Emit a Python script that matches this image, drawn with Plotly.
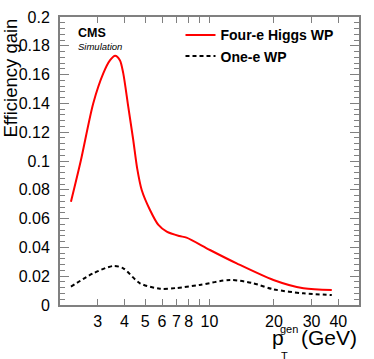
import plotly.graph_objects as go

# Four-e Higgs WP (red, solid)
four_e_pt = [2.25, 2.5, 2.86, 3.19, 3.43, 3.62, 3.81, 3.95, 4.17, 4.40,
             4.59, 4.82, 5.27, 5.77, 6.31, 7.23, 7.81, 10.05, 13.4, 19.9, 27.5, 37.3]
four_e_gain = [0.0717, 0.100, 0.140, 0.161, 0.170, 0.1731, 0.170, 0.161,
               0.1377, 0.1146, 0.0949, 0.0799, 0.066, 0.0556, 0.0509, 0.0479, 0.0468,
               0.0382, 0.0289, 0.0174, 0.0116, 0.0104]

# One-e WP (black, dashed)
one_e_pt = [2.25, 2.86, 3.55, 3.95, 4.73, 5.87, 7.0, 9.0, 12.5, 16.0, 19.9, 27.5, 37.3]
one_e_gain = [0.0127, 0.022, 0.0271, 0.0255, 0.0151, 0.0113, 0.0118, 0.0139, 0.0174,
              0.0151, 0.0109, 0.0081, 0.0069]

y_ticks = [0, 0.02, 0.04, 0.06, 0.08, 0.1, 0.12, 0.14, 0.16, 0.18, 0.2]
y_labels = ["0", "0.02", "0.04", "0.06", "0.08", "0.1", "0.12", "0.14", "0.16", "0.18", "0.2"]
x_ticks = [3, 4, 5, 6, 7, 8, 10, 20, 30, 40]
x_minor = [2, 9, 50]

FONT = "Liberation Sans, Arial, Helvetica, sans-serif"
FRAME = "#808080"

fig = go.Figure()
fig.add_trace(go.Scatter(x=four_e_pt, y=four_e_gain, mode="lines", name="<b>Four-e Higgs WP</b>",
                         line=dict(color="#ff0000", width=2, shape="spline", smoothing=0.8)))
fig.add_trace(go.Scatter(x=one_e_pt, y=one_e_gain, mode="lines", name="<b>One-e WP</b>",
                         line=dict(color="#000000", width=2, dash="4px,3px", shape="spline",
                                   smoothing=0.8)))

fig.update_layout(
    width=374, height=359,
    margin=dict(l=60, r=15, t=17, b=54),
    paper_bgcolor="white", plot_bgcolor="white",
    font=dict(family=FONT, color="black"),
    showlegend=True,
    legend=dict(x=0.403, y=0.992, xanchor="left", yanchor="top", bgcolor="rgba(0,0,0,0)",
                font=dict(size=14), traceorder="normal"),
)
fig.update_xaxes(
    type="log", range=[0.30103, 1.69897], automargin=False,
    tickvals=x_ticks, ticktext=[str(v) for v in x_ticks],
    ticks="inside", ticklen=6, tickcolor=FRAME, tickwidth=1,
    minor=dict(tickvals=x_minor, ticks="inside", ticklen=6, tickcolor=FRAME),
    showline=True, linecolor=FRAME, linewidth=2, mirror="ticks",
    showgrid=False, zeroline=False,
    tickfont=dict(size=16), ticklabelstandoff=1,
)
fig.update_yaxes(
    range=[0, 0.2], automargin=False,
    tickvals=y_ticks, ticktext=y_labels,
    ticks="inside", ticklen=9, tickcolor=FRAME, tickwidth=1,
    minor=dict(dtick=0.004, ticks="inside", ticklen=5, tickcolor=FRAME),
    showline=True, linecolor=FRAME, linewidth=2, mirror="ticks",
    showgrid=False, zeroline=False,
    tickfont=dict(size=16), ticklabelstandoff=5,
)

# longer tick at the decade
fig.update_layout(xaxis2=dict(type="log", range=[0.30103, 1.69897], overlaying="x",
                              tickvals=[10], ticks="inside", ticklen=10, tickcolor=FRAME,
                              showticklabels=False, showgrid=False, zeroline=False,
                              mirror="ticks", showline=False, anchor="y", automargin=False))

fig.add_annotation(text="<b>CMS</b>", xref="paper", yref="paper", x=0.053, y=0.945,
                   xanchor="left", yanchor="middle", showarrow=False,
                   font=dict(size=12.5, color="black"))
fig.add_annotation(text="<i>Simulation</i>", xref="paper", yref="paper", x=0.053, y=0.898,
                   xanchor="left", yanchor="middle", showarrow=False,
                   font=dict(size=9.5, color="black"))

fig.add_annotation(text="Efficiency gain", xref="paper", yref="paper", x=-0.167, y=1.0,
                   xanchor="center", yanchor="top", textangle=-90, showarrow=False,
                   font=dict(size=18.5, color="black"))

fig.add_annotation(text="p", xref="paper", yref="paper", x=0.702, y=-0.113,
                   xanchor="left", yanchor="middle", showarrow=False,
                   font=dict(size=21, color="black"))
fig.add_annotation(text="gen", xref="paper", yref="paper", x=0.730, y=-0.083,
                   xanchor="left", yanchor="middle", showarrow=False,
                   font=dict(size=11, color="black"))
fig.add_annotation(text="T", xref="paper", yref="paper", x=0.733, y=-0.177,
                   xanchor="left", yanchor="middle", showarrow=False,
                   font=dict(size=11, color="black"))
fig.add_annotation(text="(GeV)", xref="paper", yref="paper", x=1.0, y=-0.113,
                   xanchor="right", yanchor="middle", showarrow=False,
                   font=dict(size=21, color="black"))

# drop the browser's default 8px body margin so the figure fills the window
fig.write_html("out.html", config={"displayModeBar": False},
               post_script="document.body.style.margin = '0';")
